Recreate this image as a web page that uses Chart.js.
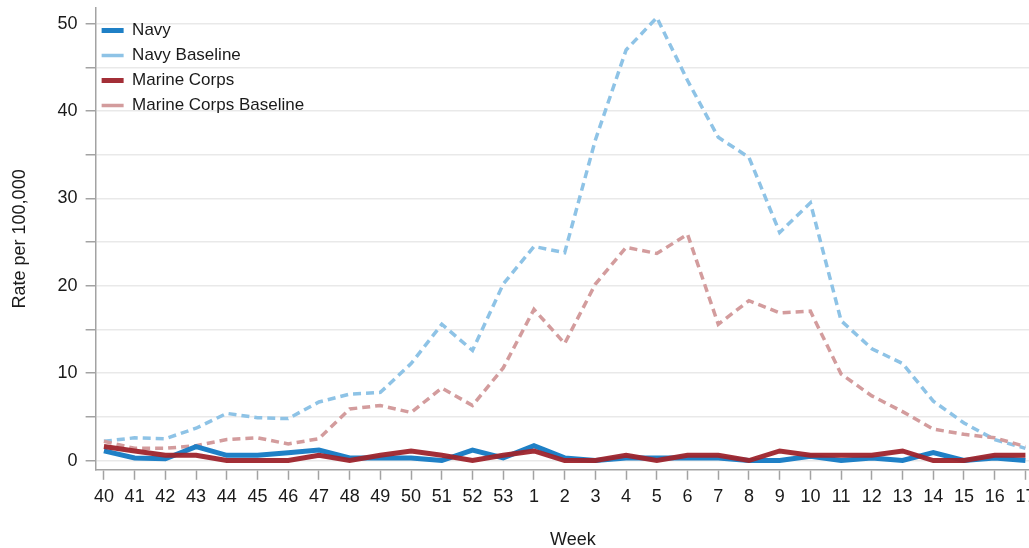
<!DOCTYPE html>
<html>
<head>
<meta charset="utf-8">
<script src="https://cdn.jsdelivr.net/npm/chart.js@4.4.1/dist/chart.umd.min.js"></script>
<style>
  html, body { margin: 0; padding: 0; background: #fff; overflow: hidden; }
  #wrap { position: relative; width: 1050px; height: 548px; }
</style>
</head>
<body>
<div id="wrap"><canvas id="chart"></canvas></div>
<script>
/* weekly rates, week 40 through week 17 */
const weeks = ['40','41','42','43','44','45','46','47','48','49','50','51','52','53',
               '1','2','3','4','5','6','7','8','9','10','11','12','13','14','15','16','17'];

const navy         = [1.1,0.3,0.2,1.6,0.6,0.6,0.9,1.2,0.3,0.3,0.3,0.0,1.2,0.3,
                      1.7,0.3,0.0,0.3,0.3,0.3,0.3,0.0,0.0,0.5,0.0,0.3,0.0,0.9,0.0,0.3,0.0];
const navyBaseline = [2.2,2.6,2.5,3.7,5.4,4.9,4.8,6.7,7.6,7.8,11.1,15.6,12.6,20.2,
                      24.5,23.8,36.7,47.0,50.7,43.5,37.0,34.7,26.1,29.5,16.0,12.8,11.1,6.8,4.3,2.4,1.4];
const marines      = [1.6,1.1,0.6,0.6,0.0,0.0,0.0,0.6,0.0,0.6,1.1,0.6,0.0,0.6,
                      1.1,0.0,0.0,0.6,0.0,0.6,0.6,0.0,1.1,0.6,0.6,0.6,1.1,0.0,0.0,0.6,0.6];
const marinesBaseline = [2.2,1.4,1.4,1.7,2.4,2.6,1.9,2.5,5.9,6.3,5.5,8.3,6.3,10.6,
                         17.3,13.4,20.2,24.4,23.7,25.9,15.6,18.3,16.9,17.1,9.9,7.4,5.6,3.6,3.0,2.6,1.6];

const yTicks = [0,5,10,15,20,25,30,35,40,45,50];

const FONT = "'Liberation Sans', Arial, sans-serif";
const AXIS = '#a3a3a3';

const pts = arr => arr.map((v, i) => ({ x: i, y: v }));

// nudge the in-plot legend down a little, like the original
const legendNudge = {
  id: 'legendNudge',
  afterLayout(chart) {
    const l = chart.legend;
    if (!l) return;
    l.top += 14; l.bottom += 14;
    l.left -= 2; l.right -= 2;
  }
};

const ctx = document.getElementById('chart');
new Chart(ctx, {
  type: 'line',
  data: {
    datasets: [
      { label: 'Navy', data: pts(navy), borderColor: '#1f80c6', borderWidth: 5, order: 2 },
      { label: 'Navy Baseline', data: pts(navyBaseline), borderColor: '#8ec3e6', borderWidth: 3.5,
        borderDash: [8, 5], order: 4 },
      { label: 'Marine Corps', data: pts(marines), borderColor: 'rgba(158,36,44,0.95)', borderWidth: 5, order: 1 },
      { label: 'Marine Corps Baseline', data: pts(marinesBaseline), borderColor: '#d39c9d', borderWidth: 3.5,
        borderDash: [8, 5], order: 3 },
    ].map(d => Object.assign({ pointRadius: 0, tension: 0, fill: false, borderCapStyle: 'butt' }, d))
  },
  options: {
    responsive: true, maintainAspectRatio: false,
    animation: false,
    layout: { padding: { top: 8, left: 0, right: 0, bottom: 0 } },
    plugins: {
      tooltip: { enabled: false },
      legend: {
        position: 'chartArea',
        align: 'start',
        labels: {
          usePointStyle: true,
          pointStyle: 'line',
          pointStyleWidth: 22,
          padding: 8,
          color: '#1a1a1a',
          font: { family: FONT, size: 17 },
          sort: (a, b) => a.datasetIndex - b.datasetIndex
        }
      }
    },
    scales: {
      x: {
        type: 'linear',
        min: -0.27,
        max: 30.8,
        afterBuildTicks: s => { s.ticks = weeks.map((_, i) => ({ value: i })); },
        ticks: {
          color: '#1a1a1a', font: { family: FONT, size: 18 }, padding: 6,
          maxRotation: 0, autoSkip: false,
          callback: v => weeks[v]
        },
        grid: { drawOnChartArea: false, drawTicks: true, tickLength: 10, tickColor: AXIS, tickWidth: 1.5 },
        border: { color: AXIS, width: 1.5 },
        title: { display: true, text: 'Week', color: '#1a1a1a', font: { family: FONT, size: 18 },
                 padding: { top: 16, bottom: -3 } }
      },
      y: {
        min: -1.06,
        max: 51.8,
        afterBuildTicks: s => { s.ticks = yTicks.map(v => ({ value: v })); },
        afterFit: s => { s.paddingTop = 0; s.paddingBottom = 0; },
        ticks: {
          color: '#1a1a1a', font: { family: FONT, size: 18 }, padding: 8,
          callback: v => (v % 10 === 0 ? String(v) : '')
        },
        grid: { color: '#e9e9e9', lineWidth: 1.5, tickLength: 10, tickColor: AXIS, tickWidth: 1.5 },
        border: { color: AXIS, width: 1.5 },
        title: { display: true, text: 'Rate per 100,000', color: '#1a1a1a', font: { family: FONT, size: 18 },
                 padding: { top: 9, bottom: 19 } }
      }
    }
  },
  plugins: [legendNudge]
});
</script>
</body>
</html>
